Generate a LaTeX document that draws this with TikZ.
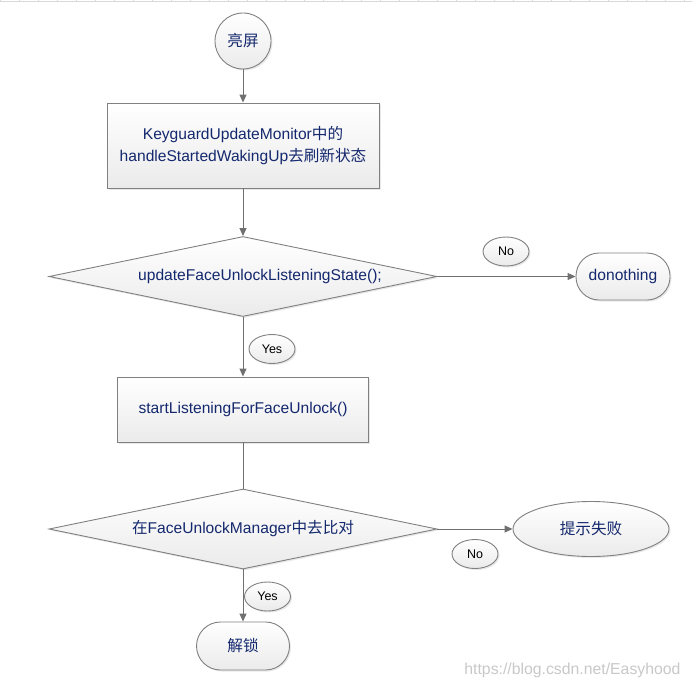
\documentclass[tikz,border=0pt]{standalone}
\usepackage{fontspec}
\setmainfont{Liberation Sans}
\newfontfamily\cjk{Noto Sans CJK SC}
\usepackage{tikz}
\usetikzlibrary{arrows.meta, positioning, shapes.geometric, shadows}
\definecolor{navytext}{HTML}{14286E}
\definecolor{edgegray}{HTML}{808080}
\definecolor{linegray}{HTML}{707070}
\definecolor{markgray}{HTML}{C8C8C8}

\begin{document}
\begin{tikzpicture}[x=1pt, y=-1pt,
    shape base/.style={draw=edgegray, line width=0.9pt, top color=white, bottom color=black!8,
        text=navytext, font=\fontsize{15.6}{22}\selectfont, inner sep=2pt,
        drop shadow={opacity=0.18, shadow xshift=1.5pt, shadow yshift=-1.5pt}},
    startnode/.style={shape base, circle, minimum size=56pt},
    process/.style={shape base, rectangle, align=center},
    decision/.style={shape base, diamond, aspect=4.85, inner sep=0pt, minimum width=388pt, minimum height=80pt},
    terminal/.style={shape base, rectangle, rounded corners=23pt, minimum height=47pt},
    outcome/.style={shape base, ellipse, minimum width=156pt, minimum height=55pt},
    answer/.style={shape base, ellipse, text=black, font=\fontsize{12.5}{14}\selectfont, minimum width=46pt, minimum height=29pt},
    link/.style={draw=linegray, line width=1pt, -{Triangle[length=8pt, width=7pt]}},
    plain/.style={draw=linegray, line width=1pt}
]
    \useasboundingbox (0,0) rectangle (692,690);

    % ruler at the top edge
    \draw[black!15] (0,1.5) -- (692,1.5);
    \foreach \x in {0,19,...,692} {
        \draw[black!15] (\x,0) -- (\x,1.5);
    }

    % Main column
    \node[startnode] (screenon) at (243,41) {\cjk 亮屏};
    \node[process, minimum width=272pt, minimum height=85pt] (refresh) at (243,145.5)
        {KeyguardUpdateMonitor{\cjk 中的}\\handleStartedWakingUp{\cjk 去刷新状态}};
    \node[decision] (check) at (243,276.5) {\hspace*{34pt}updateFaceUnlockListeningState();};
    \node[process, minimum width=251pt, minimum height=65pt] (listen) at (243,409.5)
        {startListeningForFaceUnlock()};
    \node[decision] (compare) at (243,529) {{\cjk 在}FaceUnlockManager{\cjk 中去比对}};
    \node[terminal, minimum width=93pt, minimum height=48pt, rounded corners=24pt] (unlock) at (243,646) {\cjk 解锁};

    % Side branches
    \node[terminal, minimum width=94pt] (idle) at (623,276.5) {donothing};
    \node[outcome] (fail) at (591,529) {\cjk 提示失败};

    % Yes / No tags
    \node[answer] (no1) at (506,251.5) {No};
    \node[answer] (yes1) at (272,349) {Yes};
    \node[answer] (no2) at (475,554) {No};
    \node[answer] (yes2) at (267.5,596.5) {Yes};

    % Connectors
    \draw[link] (screenon) -- (refresh);
    \draw[link] (refresh) -- (check);
    \draw[link] (check.east) -- (idle);
    \draw[link] (check.south) -- (listen);
    \draw[plain] (listen) -- (compare);
    \draw[link] (compare.east) -- (fail);
    \draw[link] (compare.south) -- (unlock);

    \node[text=markgray, font=\fontsize{15.8}{18}\selectfont, anchor=east] (mark) at (684,670)
        {https://blog.csdn.net/Easyhood};

\end{tikzpicture}
\end{document}
